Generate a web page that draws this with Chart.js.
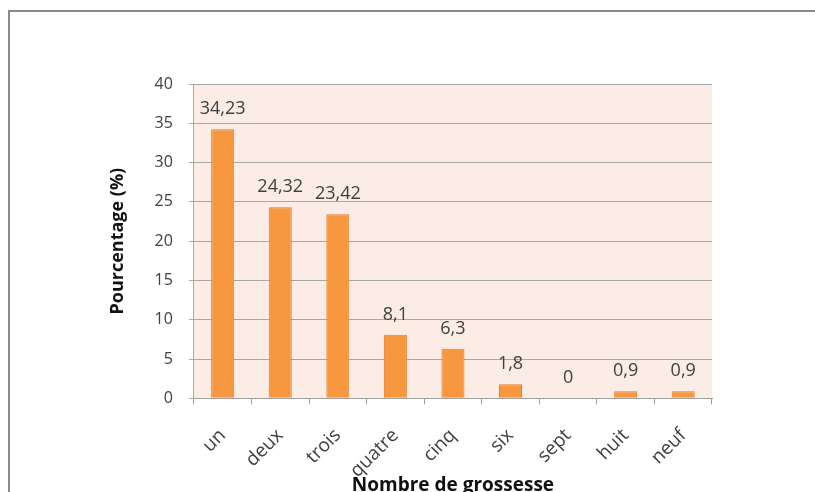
<!DOCTYPE html>
<html>
<head>
<meta charset="utf-8">
<script src="https://cdn.jsdelivr.net/npm/chart.js@4"></script>
<style>
  html, body { margin: 0; padding: 0; background: #fff; overflow: hidden; }
  body { width: 815px; height: 492px; position: relative; }
  .frame { position: absolute; left: 8px; top: 10px; width: 820px; height: 500px;
           border-top: 2px solid #8a8a8a; border-left: 2px solid #8a8a8a; }
  #wrap { position: absolute; left: 0; top: 0; width: 815px; height: 497px; }
</style>
</head>
<body>
<div class="frame"></div>
<div id="wrap"><canvas id="myChart"></canvas></div>
<script>
const categories = ['un', 'deux', 'trois', 'quatre', 'cinq', 'six', 'sept', 'huit', 'neuf']
const percentages = [34.23, 24.32, 23.42, 8.1, 6.3, 1.8, 0, 0.9, 0.9]
const yTicks = [0, 5, 10, 15, 20, 25, 30, 35, 40]

const FONT = '"Open Sans", Lato, sans-serif'

// pinkish plot background
const plotBackground = {
  id: 'plotBackground',
  beforeDraw(chart) {
    const { ctx, chartArea: a } = chart
    ctx.save()
    ctx.fillStyle = '#fbece5'
    ctx.fillRect(a.left, a.top, a.right - a.left, a.bottom - a.top)
    ctx.restore()
  }
}

// values written above each bar, french decimal comma
const valueLabels = {
  id: 'valueLabels',
  afterDatasetsDraw(chart) {
    const { ctx } = chart
    const meta = chart.getDatasetMeta(0)
    ctx.save()
    ctx.font = '18px ' + FONT
    ctx.fillStyle = '#404040'
    ctx.textAlign = 'center'
    ctx.textBaseline = 'bottom'
    meta.data.forEach((bar, i) => {
      const txt = String(percentages[i]).replace('.', ',')
      ctx.fillText(txt, bar.x, bar.y - 11)
    })
    ctx.restore()
  }
}

const ctx = document.getElementById('myChart').getContext('2d')
const myChart = new Chart(ctx, {
  type: 'bar',
  data: {
    labels: categories,
    datasets: [{
      data: percentages,
      backgroundColor: '#f7973f',
      borderColor: '#e57f2c',
      borderWidth: 1,
      barPercentage: 0.4,
      categoryPercentage: 1
    }]
  },
  options: {
    responsive: true,
    maintainAspectRatio: false,
    animation: false,
    layout: { padding: { top: 84, left: 100, right: 103, bottom: 0 } },
    plugins: {
      legend: { display: false },
      tooltip: { enabled: false }
    },
    scales: {
      x: {
        grid: { offset: true, drawOnChartArea: false, drawTicks: true, tickLength: 6, color: '#a0a0a0' },
        border: { color: '#a0a0a0', width: 1 },
        ticks: {
          color: '#404040',
          font: { family: FONT, size: 19 },
          minRotation: 45, maxRotation: 45, padding: 20
        },
        title: {
          display: true,
          text: 'Nombre de grossesse',
          color: '#111',
          font: { family: FONT, size: 19, weight: 'bold' },
          padding: { top: -28, bottom: 0 }
        }
      },
      y: {
        min: 0,
        max: 40,
        afterBuildTicks(axis) { axis.ticks = yTicks.map(v => ({ value: v })) },
        grid: { color: '#a8a8a8', lineWidth: 1, tickLength: 5 },
        border: { color: '#a8a8a8', width: 1 },
        ticks: {
          color: '#404040',
          font: { family: FONT, size: 16 },
          padding: 16
        },
        title: {
          display: true,
          text: 'Pourcentage (%)',
          color: '#111',
          font: { family: FONT, size: 18, weight: 'bold' },
          padding: { top: 7, bottom: 10 }
        }
      }
    }
  },
  plugins: [plotBackground, valueLabels]
})
</script>
</body>
</html>
